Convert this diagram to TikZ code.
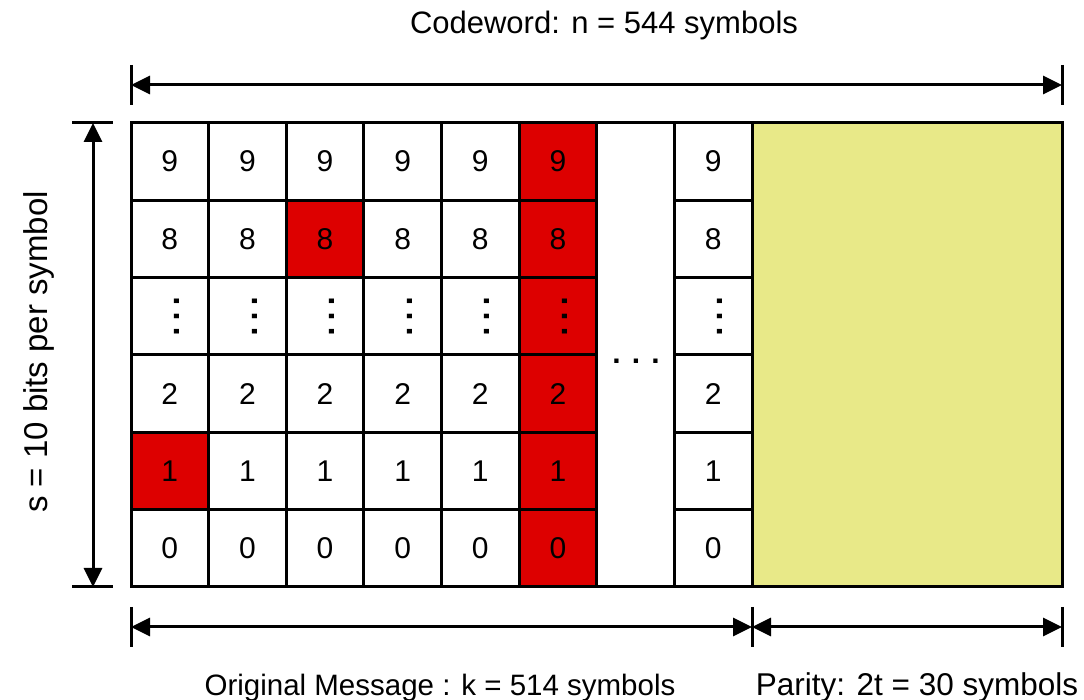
\documentclass[tikz,border=0pt]{standalone}
\usepackage{fontspec}
\setmainfont{Liberation Sans}
\usetikzlibrary{arrows.meta}
\definecolor{cellred}{RGB}{221,0,0}
\definecolor{parityyellow}{RGB}{232,233,136}
\begin{document}
\begin{tikzpicture}[x=0.5pt,y=-0.5pt,
  gridline/.style={line width=1.5pt},
  digit/.style={font=\fontsize{15}{18}\selectfont, inner sep=0pt},
  vdotmark/.style={font=\fontsize{24}{28}\selectfont, inner sep=0pt, rotate=90},
  dimarrow/.style={line width=1.5pt, {Triangle[length=9.5pt,width=9pt]}-{Triangle[length=9.5pt,width=9pt]}},
  dimbar/.style={line width=1.5pt},
  lbl/.style={inner sep=0pt, anchor=base}]
\useasboundingbox (0,0) rectangle (1084,700);

% fills
\fill[parityyellow] (752,123) rectangle (1062,587);
\fill[cellred] ({131+5*77.625},123) rectangle ({131+6*77.625},587);
\fill[cellred] ({131+2*77.625},{123+1*77.333}) rectangle ({131+3*77.625},{123+2*77.333});
\fill[cellred] (131,{123+4*77.333}) rectangle ({131+77.625},{123+5*77.333});

% grid
\draw[gridline] (131,123) rectangle (1062,587);
\foreach \i in {1,...,8} {
  \draw[gridline] ({131+\i*77.625},123) -- ({131+\i*77.625},587);
}
\foreach \r in {1,...,5} {
  \draw[gridline] (131,{123+\r*77.333}) -- ({131+6*77.625},{123+\r*77.333});
  \draw[gridline] ({131+7*77.625},{123+\r*77.333}) -- (752,{123+\r*77.333});
}

% cell texts
\foreach \c in {0,...,5,7} {
  \foreach \r/\t in {0/9,1/8,3/2,4/1,5/0} {
    \node[digit] (d\c\r) at ({131+(\c+0.5)*77.625},{123+(\r+0.5)*77.333}) {\t};
  }
  \node[vdotmark] (v\c) at ({131+(\c+0.5)*77.625+7},317) {…};
}
\node[lbl, font=\bfseries\fontsize{15}{18}\selectfont] (hdots) at (636,364) {. . .};

% top dimension
\coordinate (topL) at (131,85);
\coordinate (topR) at (1062,85);
\draw[dimarrow] (topL) -- (topR);
\draw[dimbar] ([yshift=10pt]topL) -- ([yshift=-10pt]topL);
\draw[dimbar] ([yshift=10pt]topR) -- ([yshift=-10pt]topR);

% left dimension
\coordinate (leftT) at (93,123);
\coordinate (leftB) at (93,587);
\draw[dimarrow] (leftT) -- (leftB);
\draw[dimbar] ([xshift=-10.5pt]leftT) -- ([xshift=10pt]leftT);
\draw[dimbar] ([xshift=-10.5pt]leftB) -- ([xshift=10pt]leftB);

% bottom dimensions
\coordinate (botL) at (131,627);
\coordinate (botM) at (752,627);
\coordinate (botR) at (1062,627);
\draw[dimarrow] (botL) -- (botM);
\draw[dimarrow] (botM) -- (botR);
\foreach \p in {botL,botM,botR} {
  \draw[dimbar] ([yshift=10pt]\p) -- ([yshift=-10pt]\p);
}

% labels
\node[lbl, font=\fontsize{15.5}{18}\selectfont] (title) at (604,34) {Codeword: n = 544 symbols};
\node[lbl, rotate=90, font=\fontsize{16.5}{20}\selectfont] (side) at (47,352) {s = 10 bits per symbol};
\node[lbl, font=\fontsize{14.75}{18}\selectfont] (msg) at (440,696) {Original Message : k = 514 symbols};
\node[lbl, font=\fontsize{15.75}{18}\selectfont] (par) at (917,696) {Parity: 2t = 30 symbols};
\end{tikzpicture}
\end{document}
